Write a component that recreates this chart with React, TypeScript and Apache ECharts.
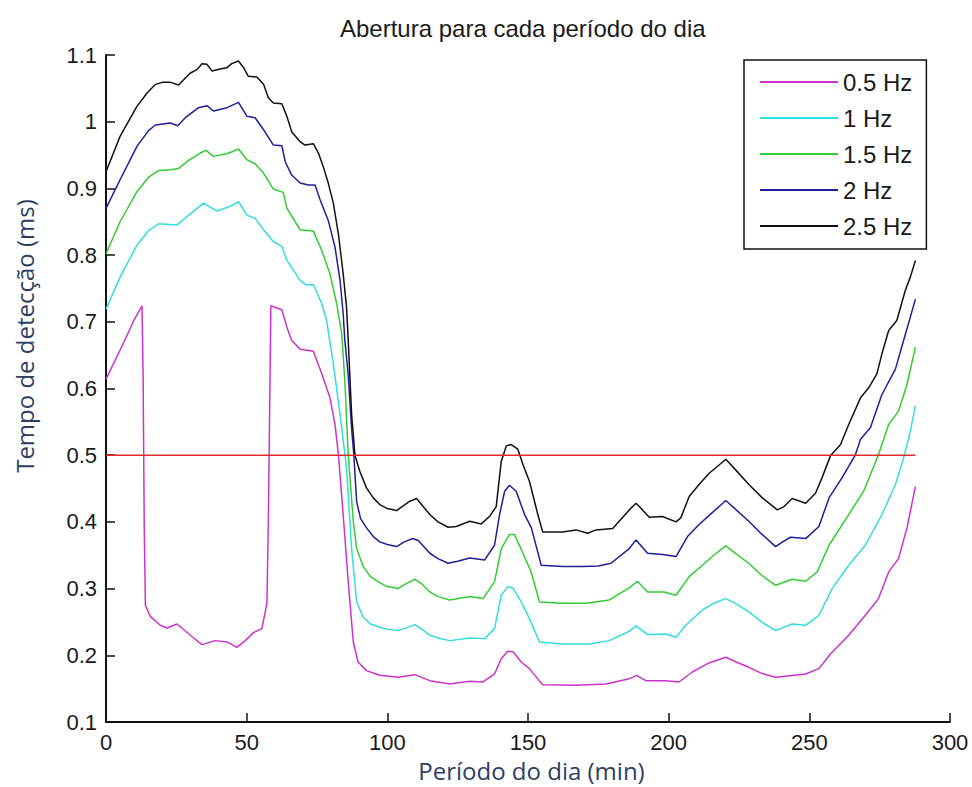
import React, { useEffect, useRef } from "react";
import * as echarts from "echarts";

const titleText = "Abertura para cada período do dia";
const xAxisName = "Período do dia (min)";
const yAxisName = "Tempo de detecção (ms)";
const seriesNames = ["0.5 Hz", "1 Hz", "1.5 Hz", "2 Hz", "2.5 Hz"];
const thresholdValue = 0.5;
const thresholdRange = [0, 287.7];

const hz05 = [[0,0.614],[6.3,0.669],[9.9,0.702],[12.8,0.724],[13.2,0.614],[13.6,0.391],[14,0.275],[15.8,0.258],[19.3,0.245],[21.7,0.241],[25.2,0.247],[30,0.23],[34.1,0.216],[38.8,0.222],[43,0.22],[46.5,0.212],[49.5,0.222],[52.4,0.234],[55.4,0.24],[57.2,0.278],[57.7,0.401],[58.3,0.614],[58.6,0.724],[62.5,0.718],[64.3,0.692],[66,0.672],[69,0.659],[73.7,0.656],[76.7,0.622],[79.6,0.586],[81.4,0.546],[82.6,0.501],[84.3,0.411],[86.1,0.31],[87.9,0.22],[89.6,0.19],[92.6,0.177],[97.3,0.17],[103.8,0.167],[109.8,0.171],[115.1,0.162],[122.2,0.157],[129.3,0.161],[134,0.16],[138.1,0.172],[140.5,0.195],[142.8,0.206],[144.8,0.205],[147.6,0.19],[150.5,0.18],[155.2,0.156],[167.1,0.155],[177.7,0.157],[186,0.165],[188.6,0.17],[191.9,0.162],[199,0.162],[203.7,0.16],[208.4,0.175],[214,0.188],[220.3,0.197],[224,0.19],[228.5,0.182],[233,0.173],[238,0.167],[248.7,0.172],[253.4,0.18],[257.5,0.202],[264,0.23],[269.9,0.26],[274.6,0.285],[278.2,0.325],[281.7,0.345],[284.7,0.391],[287.7,0.453]];

const hz10 = [[0,0.719],[5,0.767],[11,0.815],[15.2,0.837],[18.7,0.847],[25.2,0.845],[29.4,0.86],[34.7,0.878],[39.4,0.866],[43.5,0.872],[47.1,0.88],[50.1,0.86],[53,0.855],[56,0.838],[59.5,0.82],[62.5,0.813],[64.3,0.792],[69,0.762],[71.3,0.755],[73.7,0.756],[76.7,0.727],[78.4,0.702],[80.8,0.637],[83.2,0.561],[85.5,0.481],[87.3,0.36],[89.1,0.28],[91.4,0.257],[94,0.247],[97.3,0.242],[100,0.239],[103.8,0.237],[106,0.24],[109.8,0.246],[112,0.24],[115.1,0.23],[118,0.226],[122.2,0.222],[129.3,0.226],[134.6,0.225],[138.1,0.24],[140.5,0.29],[142.8,0.303],[144.6,0.301],[147.6,0.28],[150.5,0.255],[154.1,0.22],[162.3,0.217],[171.8,0.217],[178.9,0.222],[186,0.236],[188.4,0.244],[192.5,0.231],[199,0.232],[202.6,0.227],[206.1,0.245],[212,0.268],[216,0.278],[220.3,0.285],[224,0.277],[228.5,0.265],[233,0.25],[238,0.237],[243.9,0.247],[248.7,0.245],[253.4,0.26],[258.1,0.3],[264,0.335],[269.9,0.365],[275.8,0.411],[280.6,0.456],[283.5,0.496],[285.9,0.536],[287.7,0.574]];

const hz15 = [[0,0.802],[5,0.85],[11,0.895],[15.2,0.917],[18.7,0.927],[22.9,0.928],[25.8,0.93],[29.4,0.942],[33.5,0.953],[35.6,0.957],[38.2,0.948],[43,0.952],[47.1,0.959],[50.1,0.943],[53,0.937],[56,0.923],[59.5,0.899],[63,0.894],[64.3,0.87],[69,0.838],[73.7,0.836],[76.7,0.807],[79.6,0.772],[82,0.727],[83.8,0.682],[84.9,0.611],[86.1,0.501],[87.9,0.401],[89.1,0.36],[91.4,0.333],[94,0.318],[97.3,0.309],[100,0.303],[103.8,0.3],[106,0.306],[109.8,0.314],[112,0.308],[115.1,0.295],[118,0.288],[122.2,0.283],[129.3,0.288],[134,0.285],[138.1,0.31],[140.5,0.36],[143.4,0.381],[145.2,0.381],[148.2,0.353],[151.1,0.325],[154.1,0.28],[162.3,0.278],[170.6,0.278],[178.9,0.283],[186,0.301],[188.9,0.311],[192.5,0.295],[198.4,0.295],[202.6,0.29],[207.3,0.318],[212,0.335],[216,0.35],[220.3,0.364],[224,0.352],[228.5,0.338],[233,0.32],[238,0.305],[243.9,0.314],[248.7,0.311],[252.8,0.325],[257,0.365],[264,0.411],[269.3,0.446],[274.6,0.501],[278.2,0.546],[281.7,0.566],[284.7,0.606],[287.7,0.662]];

const hz20 = [[0,0.87],[5,0.913],[11,0.963],[15.2,0.987],[17.6,0.995],[22.9,0.998],[25.5,0.994],[28.2,1.006],[32.9,1.021],[35.9,1.024],[38.2,1.016],[43,1.021],[47.1,1.029],[50.1,1.008],[53,1.006],[56,0.988],[59.5,0.965],[62.5,0.964],[63.7,0.94],[66,0.92],[69,0.908],[71.9,0.905],[74.3,0.905],[76.1,0.883],[79,0.852],[81.4,0.812],[83.2,0.762],[84.3,0.712],[84.9,0.672],[86.1,0.62],[87.3,0.54],[88.1,0.5],[89.1,0.43],[90.5,0.405],[92.6,0.391],[95,0.378],[97.3,0.37],[100,0.366],[103.3,0.363],[106,0.37],[109.1,0.375],[111,0.372],[115.1,0.353],[118,0.345],[121.6,0.338],[125,0.341],[129.3,0.346],[134.6,0.343],[138.1,0.365],[139.9,0.411],[141.7,0.446],[143.4,0.455],[145.8,0.446],[148.8,0.411],[151.2,0.391],[154.7,0.335],[162.3,0.333],[169.4,0.333],[175,0.334],[179.5,0.338],[186,0.36],[188.4,0.373],[192.5,0.353],[197.8,0.351],[202.6,0.348],[206.7,0.378],[210.8,0.396],[215,0.412],[220.3,0.432],[224,0.418],[228.5,0.401],[233,0.382],[238,0.363],[240.5,0.37],[243.3,0.377],[248.7,0.375],[253.4,0.393],[257,0.436],[261.6,0.466],[266.4,0.501],[268.2,0.524],[271.7,0.541],[275.8,0.591],[280.6,0.629],[283.5,0.672],[285.9,0.707],[287.7,0.734]];

const hz25 = [[0,0.925],[5,0.978],[11,1.023],[14.6,1.043],[17.6,1.056],[20,1.059],[23,1.059],[25.8,1.055],[27.6,1.063],[30,1.073],[32.3,1.078],[34.1,1.087],[35.9,1.086],[37.7,1.076],[40.6,1.079],[43,1.081],[44.7,1.087],[47.1,1.091],[48.9,1.081],[50.6,1.068],[53.6,1.067],[56,1.056],[57.7,1.036],[59.5,1.028],[62.5,1.027],[64.3,1.008],[66,0.985],[69,0.97],[70.7,0.965],[73.7,0.967],[75.5,0.953],[77.2,0.933],[79,0.908],[80.8,0.878],[82.6,0.832],[84.3,0.772],[85.5,0.722],[86.1,0.672],[87.3,0.561],[88.5,0.5],[90.2,0.476],[92.6,0.451],[95,0.436],[97.3,0.426],[100,0.42],[103.3,0.417],[106,0.425],[108,0.431],[110.4,0.435],[115.1,0.411],[118,0.4],[121.6,0.392],[124.5,0.393],[129.3,0.401],[133.4,0.397],[136.3,0.408],[138.7,0.423],[140.5,0.491],[142.3,0.514],[144,0.516],[146.4,0.509],[148.2,0.486],[150.5,0.461],[153.5,0.411],[155.2,0.385],[162.3,0.385],[167.1,0.388],[171.2,0.383],[174.2,0.388],[180.1,0.39],[186,0.418],[188.4,0.428],[190.7,0.418],[193.1,0.407],[197.8,0.408],[202.6,0.4],[204.3,0.406],[207.3,0.438],[210.8,0.456],[214.4,0.473],[217.3,0.483],[220.3,0.494],[223.8,0.478],[228.5,0.456],[233.3,0.436],[238.6,0.418],[241,0.423],[243.9,0.435],[248.7,0.428],[252.2,0.443],[254.5,0.466],[257.5,0.499],[261.1,0.516],[264,0.546],[268.2,0.586],[271.1,0.601],[274,0.622],[275.8,0.652],[278.2,0.687],[281.1,0.702],[284.1,0.747],[285.9,0.767],[287.7,0.792]];

const seriesData = [hz05, hz10, hz15, hz20, hz25];
const seriesColors = ["#cc33cc", "#33dddd", "#33cc33", "#1f1f99", "#111111"];

const sansFont = "'Liberation Sans', Arial, sans-serif";
const labelFont = "'Open Sans', 'Noto Sans', sans-serif";

export default function App() {
  const ref = useRef<HTMLDivElement>(null);
  useEffect(() => {
    if (!ref.current) return;
    const chart = echarts.init(ref.current, null, { renderer: "svg" });
    const lines = seriesNames.map((name, i) => ({
      name,
      type: "line",
      data: seriesData[i],
      showSymbol: false,
      symbol: "none",
      lineStyle: { color: seriesColors[i], width: 1.5 },
      itemStyle: { color: seriesColors[i] },
    }));
    const option = {
      animation: false,
      backgroundColor: "#ffffff",
      title: {
        text: titleText,
        left: 335,
        top: 11,
        textStyle: { fontFamily: sansFont, fontSize: 24, fontWeight: "normal", color: "#1a1a1a" },
      },
      grid: { left: 106, right: 22, top: 55, bottom: 65 },
      legend: {
        orient: "vertical",
        left: 744,
        top: 60,
        padding: [10, 14, 11, 16],
        itemGap: 12,
        itemWidth: 78,
        itemHeight: 2,
        icon: "rect",
        borderColor: "#111",
        borderWidth: 1.5,
        backgroundColor: "#ffffff",
        data: seriesNames,
        textStyle: { fontFamily: sansFont, fontSize: 24, color: "#1a1a1a", lineHeight: 24 },
      },
      xAxis: {
        type: "value",
        min: 0,
        max: 300,
        interval: 50,
        name: xAxisName,
        nameLocation: "middle",
        nameGap: 36,
        nameTextStyle: { fontFamily: labelFont, fontSize: 24, color: "#2c3e63", padding: [0, 0, 0, 7] },
        axisLine: { show: true, lineStyle: { color: "#111", width: 2 } },
        axisTick: { show: true, inside: true, length: 9, lineStyle: { color: "#111", width: 1.5 } },
        axisLabel: { fontFamily: sansFont, fontSize: 22, color: "#1a1a1a", margin: 9 },
        splitLine: { show: false },
      },
      yAxis: {
        type: "value",
        min: 0.1,
        max: 1.1,
        interval: 0.1,
        axisLine: { show: true, lineStyle: { color: "#111", width: 2 } },
        axisTick: { show: true, inside: true, length: 9, lineStyle: { color: "#111", width: 1.5 } },
        axisLabel: {
          fontFamily: sansFont,
          fontSize: 22,
          color: "#1a1a1a",
          margin: 9,
          formatter: (v: number) => String(parseFloat(v.toFixed(1))),
        },
        splitLine: { show: false },
      },
      graphic: [
        {
          type: "text",
          x: 24,
          y: 336,
          rotation: Math.PI / 2,
          style: {
            text: yAxisName,
            fontFamily: labelFont,
            fontSize: 24,
            fill: "#2c3e63",
            textAlign: "center",
            textVerticalAlign: "middle",
          },
        },
      ],
      series: [
        ...lines,
        {
          name: "limiar",
          type: "line",
          data: thresholdRange.map((x) => [x, thresholdValue]),
          showSymbol: false,
          symbol: "none",
          lineStyle: { color: "#dd2a2a", width: 1.5 },
          z: 3,
        },
      ],
    };
    chart.setOption(option as any);
    return () => chart.dispose();
  }, []);
  return (
    <div
      ref={ref}
      style={{ position: "fixed", left: 0, top: 0, width: 972, height: 787 }}
    />
  );
}
